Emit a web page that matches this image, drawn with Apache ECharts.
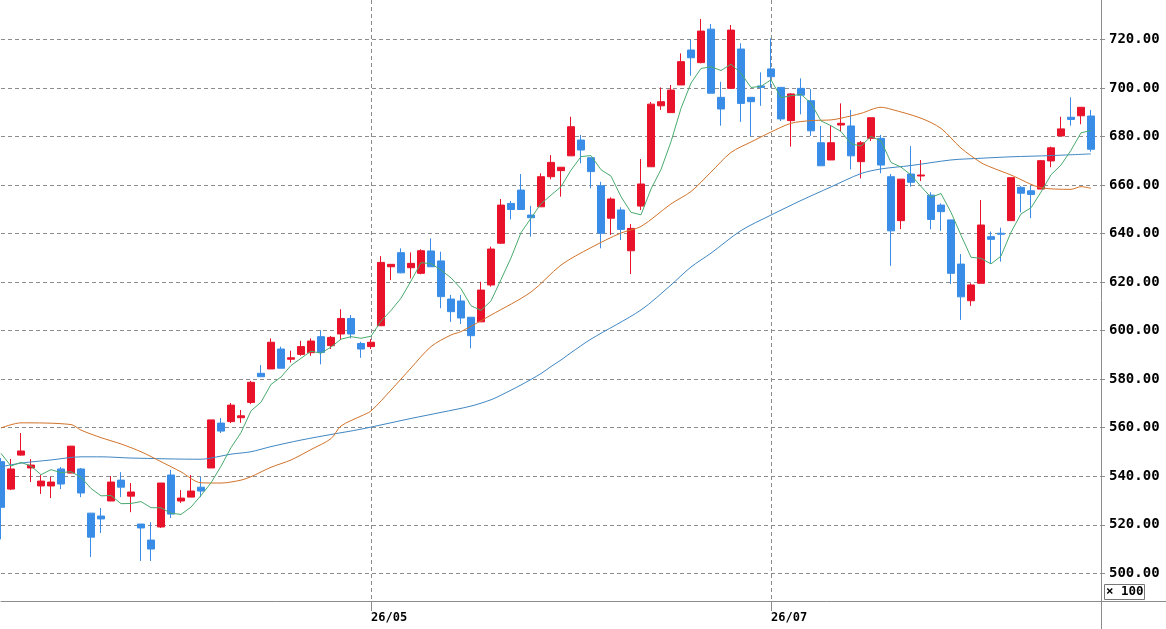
<!DOCTYPE html>
<html>
<head>
    <meta charset="utf-8">
    <title>Candles</title>
    <script src="https://cdn.jsdelivr.net/npm/echarts@6/dist/echarts.min.js"></script>
    <style>
        html, body { margin: 0; padding: 0; background: #fff; }
    </style>
</head>
<body>
<div id="main" style="width: 1166px; height: 629px;"></div>
<script type="text/javascript">
    // daily prices (unit: x100)
    var opens = [
        546.0, 534.7, 548.7, 543.4, 536.0, 536.0, 543.0, 541.3, 543.0, 524.8,
        523.6, 529.8, 538.4, 531.8, 520.3, 513.7, 519.1, 540.5, 529.8, 531.4,
        535.5, 543.4, 561.9, 562.5, 564.1, 570.4, 582.4, 584.2, 592.4, 588.2,
        590.2, 590.9, 597.5, 593.8, 598.6, 605.0, 594.7, 593.4, 602.0, 626.3,
        632.1, 625.9, 623.6, 632.8, 628.7, 613.0, 612.2, 605.5, 603.6, 618.8,
        636.0, 652.4, 657.9, 647.6, 651.0, 663.4, 665.9, 672.0, 678.5, 671.2,
        659.7, 646.3, 649.7, 632.9, 651.3, 667.5, 692.6, 689.8, 701.2, 715.6,
        710.4, 724.2, 696.1, 699.8, 716.0, 696.1, 700.8, 707.8, 700.2, 686.5,
        699.8, 694.7, 677.4, 670.3, 684.7, 684.3, 669.6, 679.2, 679.2, 663.4,
        645.3, 664.5, 663.7, 655.8, 651.7, 645.6, 627.4, 612.3, 619.5, 638.7,
        640.1, 645.3, 659.0, 657.6, 658.3, 669.9, 680.2, 687.9, 688.5, 688.4
    ];
    var closes = [
        527.2, 543.0, 550.4, 544.6, 538.0, 537.6, 536.8, 552.4, 533.1, 514.9,
        522.4, 537.6, 535.5, 533.5, 518.7, 510.0, 537.2, 524.4, 531.0, 533.9,
        533.9, 563.2, 558.6, 569.3, 564.9, 578.7, 581.0, 595.2, 584.5, 588.8,
        593.4, 595.7, 591.0, 597.2, 605.0, 598.6, 592.4, 595.2, 628.1, 627.3,
        623.8, 627.7, 632.9, 626.3, 614.0, 607.8, 605.2, 597.9, 616.7, 633.6,
        651.7, 649.9, 649.9, 646.5, 663.4, 669.3, 667.3, 684.0, 674.4, 665.5,
        640.1, 654.2, 641.7, 642.1, 660.4, 693.3, 694.3, 699.1, 710.8, 712.4,
        723.4, 697.8, 691.3, 723.8, 693.6, 694.3, 700.2, 704.6, 687.2, 697.5,
        697.0, 682.3, 667.9, 677.4, 685.4, 672.0, 677.4, 687.7, 668.2, 641.1,
        662.4, 661.1, 664.1, 645.8, 649.0, 623.6, 613.9, 618.8, 643.5, 637.6,
        639.7, 663.0, 656.6, 656.1, 670.0, 675.3, 683.1, 687.0, 692.0, 674.7
    ];
    var lows = [
        514.0, 534.3, 548.5, 537.6, 532.7, 531.0, 534.7, 541.3, 531.4, 506.7,
        516.6, 529.8, 531.4, 525.2, 505.1, 505.1, 518.7, 522.8, 529.0, 531.4,
        531.4, 543.4, 557.8, 561.9, 562.0, 569.7, 581.0, 584.2, 584.5, 586.8,
        589.6, 589.6, 586.1, 592.4, 596.1, 596.8, 588.8, 592.4, 602.0, 620.8,
        623.6, 621.5, 623.2, 626.3, 609.2, 603.6, 602.7, 592.7, 603.6, 618.1,
        635.7, 645.8, 649.9, 638.7, 651.0, 662.3, 655.2, 672.0, 668.9, 658.6,
        633.9, 639.4, 637.3, 623.3, 649.7, 667.5, 690.9, 689.8, 701.2, 705.0,
        710.1, 697.8, 684.4, 699.8, 686.0, 680.2, 692.6, 700.1, 686.3, 675.8,
        689.1, 680.2, 667.9, 670.3, 681.9, 666.4, 662.7, 678.1, 664.8, 626.7,
        641.8, 659.3, 661.6, 641.7, 641.1, 619.2, 604.4, 610.2, 619.5, 627.7,
        628.4, 645.3, 648.7, 646.3, 658.3, 667.3, 680.2, 684.4, 685.0, 673.7
    ];
    var highs = [
        547.5, 547.1, 557.8, 547.1, 540.5, 539.7, 543.8, 552.4, 543.4, 524.8,
        526.9, 540.1, 541.7, 537.2, 520.3, 521.1, 537.2, 542.6, 534.3, 540.5,
        539.7, 563.2, 564.0, 570.2, 567.3, 579.3, 585.8, 596.8, 593.4, 591.7,
        595.8, 596.8, 600.2, 597.8, 608.8, 606.4, 595.4, 596.5, 630.7, 627.3,
        633.9, 632.2, 633.5, 638.0, 632.5, 614.7, 614.7, 605.5, 620.1, 634.6,
        654.2, 653.4, 664.5, 651.4, 664.8, 672.3, 667.3, 688.1, 680.6, 671.2,
        661.3, 654.9, 650.8, 643.9, 670.7, 694.2, 700.2, 701.2, 714.2, 720.0,
        728.4, 726.3, 702.5, 725.9, 718.4, 696.1, 706.4, 720.4, 700.2, 697.8,
        703.9, 699.5, 684.3, 684.7, 693.6, 690.9, 678.1, 687.7, 680.6, 664.5,
        662.4, 676.0, 670.3, 657.0, 652.4, 645.6, 631.5, 619.5, 653.8, 640.8,
        642.4, 663.0, 659.6, 659.6, 670.3, 675.8, 688.1, 696.1, 692.0, 690.9
    ];

    // 5-day line before enough closes exist
    var ma5Head = [549.4, 544.2, 545.7, 544.2];
    // 25-day and 75-day lines, [day index, value]
    var ma25 = [
        [0, 559.9], [2, 562.0], [7, 561.3], [8, 559.0], [10, 555.9], [12, 553.3],
        [14, 550.1], [16, 546.0], [18, 541.8], [20, 537.3], [22, 537.2], [24, 538.4],
        [25, 539.8], [27, 543.7], [29, 546.7], [31, 551.0], [33, 555.5], [34, 560.7],
        [36, 564.8], [37, 566.9], [39, 575.5], [41, 584.6], [43, 593.4], [45, 598.2],
        [46, 599.6], [49, 606.4], [53, 615.9], [56, 627.0], [59, 634.2], [62, 640.2],
        [64, 642.9], [67, 652.2], [69, 657.3], [71, 665.3], [73, 673.4], [75, 677.7],
        [77, 681.8], [79, 685.4], [81, 686.5], [83, 686.8], [84, 687.5], [86, 689.5],
        [88, 692.0], [89, 691.2], [92, 687.5], [94, 683.3], [96, 675.2], [98, 669.2],
        [99, 667.3], [101, 664.1], [104, 658.9], [107, 658.2], [108, 659.3], [109, 658.6]
    ];
    var ma75 = [
        [0, 543.9], [2, 545.4], [5, 546.7], [8, 548.0], [10, 548.0], [13, 547.5],
        [20, 547.0], [22, 548.3], [23, 549.1], [25, 550.1], [27, 552.2], [30, 554.9],
        [33, 557.2], [36, 559.4], [41, 563.8], [44, 566.3], [47, 568.9], [49, 571.5],
        [50, 573.4], [52, 577.6], [54, 582.3], [55, 585.2], [56, 587.9], [57, 590.9],
        [59, 596.5], [64, 608.5], [67, 618.8], [69, 626.2], [71, 631.9], [74, 641.2],
        [77, 647.6], [80, 653.6], [83, 659.2], [86, 664.7], [88, 666.6], [91, 668.0],
        [95, 670.3], [98, 671.0], [101, 671.6], [105, 672.1], [109, 672.8]
    ];

    // month ticks on the time axis
    var monthTicks = { 37: '26/05', 77: '26/07' };
    var priceTicks = [500, 520, 540, 560, 580, 600, 620, 640, 660, 680, 700, 720];

    var days = [];
    for (var i = 0; i <= closes.length; i++) days.push(String(i));

    var candles = [];
    for (var i = 0; i < closes.length; i++) {
        candles.push([opens[i], closes[i], lows[i], highs[i]]);
    }

    var ma5 = [];
    for (var i = 0; i < closes.length; i++) {
        if (i < 4) { ma5.push(ma5Head[i]); continue; }
        var s = 0;
        for (var j = 0; j < 5; j++) s += closes[i - j];
        ma5.push(+(s / 5).toFixed(2));
    }

    var isMonth = function (idx) { return monthTicks[idx] !== undefined; };
    var gridColor = '#8c8c8c';
    var monoFont = '"DejaVu Sans Mono", monospace';

    var myChart = echarts.init(document.getElementById('main'));

    var option = {
        animation: false,
        backgroundColor: '#fff',
        grid: { left: 1, right: 65, top: 0, bottom: 28 },
        xAxis: {
            type: 'category',
            data: days,
            boundaryGap: false,
            axisLine: { lineStyle: { color: gridColor } },
            axisTick: { show: true, length: 10, interval: isMonth, lineStyle: { color: gridColor } },
            axisLabel: {
                interval: isMonth,
                formatter: function (v, idx) { return monthTicks[idx] || ''; },
                align: 'left',
                margin: 11,
                color: '#000',
                fontFamily: monoFont,
                fontWeight: 'bold',
                fontSize: 12
            },
            splitLine: { show: true, interval: isMonth, lineStyle: { type: [4, 3], color: gridColor } }
        },
        yAxis: {
            type: 'value',
            position: 'right',
            min: 488.6,
            max: 736.2,
            splitNumber: 12,
            axisLine: { show: true, lineStyle: { color: gridColor } },
            axisTick: { show: true, length: 4, customValues: priceTicks, lineStyle: { color: gridColor } },
            axisLabel: {
                customValues: priceTicks,
                formatter: function (v) { return v.toFixed(2); },
                margin: 8,
                color: '#000',
                fontFamily: monoFont,
                fontWeight: 'bold',
                fontSize: 14
            },
            splitLine: { lineStyle: { type: [4, 3], color: gridColor } }
        },
        series: [
            {
                type: 'candlestick',
                data: candles,
                barWidth: 8,
                itemStyle: {
                    color: '#e8132b',
                    color0: '#3a8de6',
                    borderColor: '#e8132b',
                    borderColor0: '#3a8de6',
                    borderWidth: 1
                }
            },
            {
                type: 'line',
                data: ma75,
                symbol: 'none',
                smooth: 0.3,
                lineStyle: { color: '#3f87c4', width: 1 }
            },
            {
                type: 'line',
                data: ma25,
                symbol: 'none',
                smooth: 0.3,
                lineStyle: { color: '#d2732a', width: 1 }
            },
            {
                type: 'line',
                data: ma5,
                symbol: 'none',
                lineStyle: { color: '#4aaa6e', width: 1 }
            }
        ],
        graphic: [
            { type: 'line', shape: { x1: 1101.5, y1: 600, x2: 1101.5, y2: 629 }, style: { stroke: gridColor, lineWidth: 1 } },
            { type: 'line', shape: { x1: 1101, y1: 601.5, x2: 1166, y2: 601.5 }, style: { stroke: gridColor, lineWidth: 1 } },
            { type: 'rect', shape: { x: 1104.5, y: 584.5, width: 40, height: 15 }, style: { fill: '#fff', stroke: '#777', lineWidth: 1 } },
            { type: 'text', x: 1106, y: 592, style: { text: '\u00d7 100', fill: '#000', font: 'bold 12.5px "DejaVu Sans Mono", monospace', verticalAlign: 'middle' } }
        ]
    };

    myChart.setOption(option);
</script>
</body>
</html>
